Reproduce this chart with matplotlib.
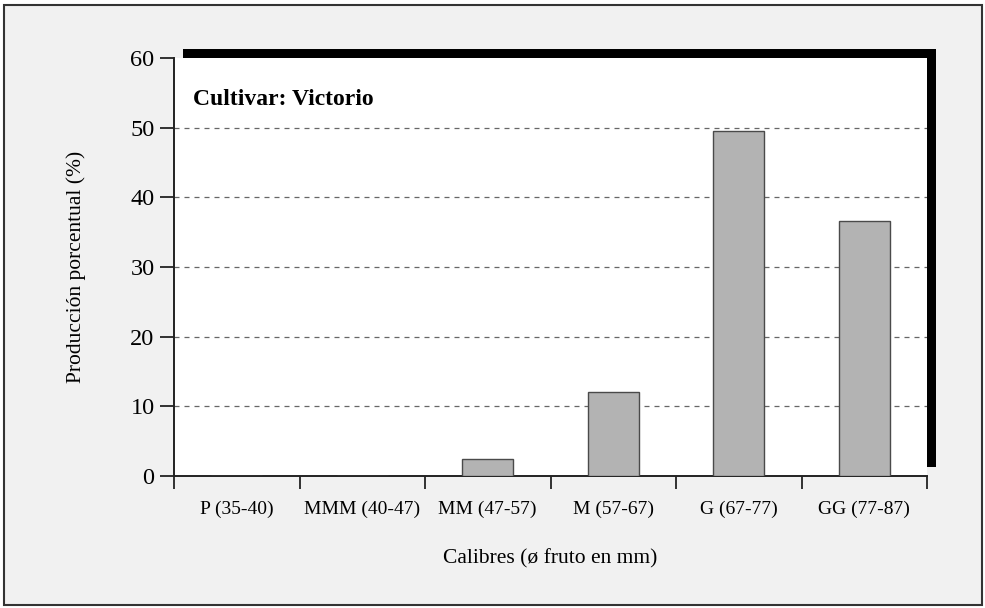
import matplotlib
matplotlib.use("Agg")
import matplotlib.pyplot as plt
from matplotlib.patches import Rectangle

categories = ["P (35-40)", "MMM (40-47)", "MM (47-57)", "M (57-67)", "G (67-77)", "GG (77-87)"]
values = [0.0, 0.0, 2.5, 12.0, 49.5, 36.6]
y_ticks = [0, 10, 20, 30, 40, 50, 60]

plt.rcParams["font.family"] = ["Liberation Serif", "DejaVu Serif"]

W, H = 985, 608
fig = plt.figure(figsize=(W / 100, H / 100), dpi=100)
fig.patch.set_facecolor("white")

# outer frame with light gray paper
fig.patches.append(Rectangle((4 / W, 1 - 605 / H), 978 / W, 600 / H, transform=fig.transFigure,
                             facecolor="#f1f1f1", edgecolor="#333333", linewidth=1.5, zorder=0))

left, right, top, bottom = 174, 927, 58, 476
ax_rect = [left / W, 1 - bottom / H, (right - left) / W, (bottom - top) / H]

# black drop shadow behind the plot box
off = 9
fig.patches.append(Rectangle(((left + off) / W, 1 - (bottom - off) / H), (right - left) / W,
                             (bottom - top) / H, transform=fig.transFigure,
                             facecolor="black", edgecolor="none", zorder=1))

ax = fig.add_axes(ax_rect)
ax.set_facecolor("white")
ax.set_zorder(2)

x = range(len(categories))
ax.bar(x, values, width=0.41, color="#b3b3b3", edgecolor="#4a4a4a", linewidth=1.0, zorder=3)

ax.set_xlim(-0.5, len(categories) - 0.5)
ax.set_ylim(0, 60)
ax.set_yticks(y_ticks)
ax.yaxis.grid(True, linestyle=(0, (4, 4)), color="#666666", linewidth=0.9)
ax.set_axisbelow(True)
gl = ax.yaxis.get_gridlines()
gl[0].set_visible(False)
gl[-1].set_visible(False)

ax.set_xticks(list(x))
ax.set_xticklabels(categories, fontsize=14)
ax.set_xticks([i - 0.5 for i in range(len(categories) + 1)], minor=True)
ax.tick_params(axis="x", which="major", length=0, pad=18)
ax.tick_params(axis="x", which="minor", length=9, width=1.3, direction="out", color="#222222")
ax.tick_params(axis="y", length=10, width=1.3, direction="out", labelsize=17.5, pad=4, color="#222222")

for s in ["top", "right"]:
    ax.spines[s].set_visible(False)
for s in ["left", "bottom"]:
    ax.spines[s].set_linewidth(1.4)
    ax.spines[s].set_color("#222222")

ax.text(0.025, 0.90, "Cultivar: Victorio", transform=ax.transAxes, fontsize=17,
        fontweight="bold", ha="left", va="center")

ax.set_ylabel("Producción porcentual (%)", fontsize=15.5, labelpad=32)
ax.set_xlabel("Calibres (ø fruto en mm)", fontsize=15.5, labelpad=22)

fig.savefig("out.png", dpi=100)
